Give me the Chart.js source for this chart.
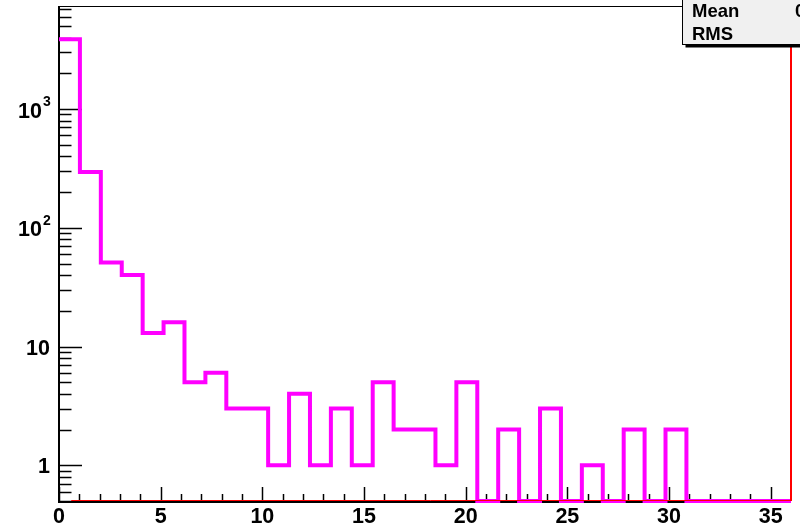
<!DOCTYPE html>
<html><head><meta charset="utf-8">
<script src="https://cdn.jsdelivr.net/npm/chart.js@4"></script>
<style>html,body{margin:0;padding:0;background:#fff;} canvas{display:block;}</style>
</head><body>
<canvas id="c" width="800" height="528"></canvas>
<script>
// ---- data ----
const xMin = 0, xMax = 36, nBins = 35;
const counts = [3880, 295, 51, 40, 13, 16, 5, 6, 3, 3, 1, 4, 1, 3, 1, 5, 2, 2, 1, 5,
                0, 2, 0, 3, 0, 1, 0, 2, 0, 2, 0, 0, 0, 0, 0];
const yMin = 0.5, yMax = 7380;
const xTickValues = [0, 5, 10, 15, 20, 25, 30, 35];
const xTickLabels = ['0', '5', '10', '15', '20', '25', '30', '35'];
const yTickValues = [1, 10, 100, 1000];
const yTickBase = ['1', '10', '10', '10'];
const yTickExp = ['', '', '2', '3'];
const statNames = ['Mean', 'RMS'];

// ---- build histogram outline from the arrays ----
const binW = (xMax - xMin) / nBins;
const pts = counts.map((n, i) => ({ x: xMin + i * binW, y: n > 0 ? n : yMin }));
pts.push({ x: xMax, y: counts[counts.length - 1] > 0 ? counts[counts.length - 1] : yMin });

// stats
let sN = 0, sX = 0, sXX = 0;
counts.forEach((n, i) => { const c = xMin + (i + 0.5) * binW; sN += n; sX += n * c; sXX += n * c * c; });
const mean = sX / sN, rms = Math.sqrt(sXX / sN - mean * mean);
const statValues = [mean.toPrecision(4), rms.toPrecision(4)];

const FONT = '"Liberation Sans", Arial, Helvetica, sans-serif';

const rootStyle = {
  id: 'rootStyle',
  beforeDatasetsDraw(chart) {
    const { ctx, chartArea: a, scales: { x, y } } = chart;
    ctx.save();
    ctx.strokeStyle = '#000';
    // top frame
    ctx.lineWidth = 1;
    ctx.beginPath(); ctx.moveTo(a.left, a.top + 0.5); ctx.lineTo(a.right, a.top + 0.5); ctx.stroke();
    // axes
    ctx.lineWidth = 2;
    ctx.beginPath(); ctx.moveTo(a.left, a.top); ctx.lineTo(a.left, a.bottom + 1); ctx.lineTo(a.right, a.bottom + 1); ctx.stroke();
    // y ticks (log: major at decades, minor 2..9)
    ctx.lineWidth = 1.5;
    for (let d = -1; d <= 4; d++) {
      for (let m = 1; m <= 9; m++) {
        const v = m * Math.pow(10, d);
        if (v < yMin || v > yMax) continue;
        const py = Math.round(y.getPixelForValue(v)) + 0.5;
        const len = m === 1 ? 23 : 12.5;
        ctx.beginPath(); ctx.moveTo(a.left, py); ctx.lineTo(a.left + len, py); ctx.stroke();
      }
    }
    // x ticks
    for (let v = Math.ceil(xMin); v < xMax; v++) {
      const px = Math.round(x.getPixelForValue(v)) + 0.5;
      const len = v % 5 === 0 ? 14 : 7;
      ctx.beginPath(); ctx.moveTo(px, a.bottom); ctx.lineTo(px, a.bottom - len); ctx.stroke();
    }
    // labels
    ctx.fillStyle = '#000';
    ctx.font = 'bold 21.5px ' + FONT;
    ctx.textAlign = 'center'; ctx.textBaseline = 'alphabetic';
    xTickValues.forEach((v, i) => {
      ctx.fillText(xTickLabels[i], x.getPixelForValue(v), 523);
    });
    yTickValues.forEach((v, i) => {
      const py = y.getPixelForValue(v);
      if (yTickExp[i]) {
        ctx.font = 'bold 21.5px ' + FONT; ctx.textAlign = 'right';
        ctx.fillText(yTickBase[i], 42, py + 8.5);
        ctx.font = 'bold 14px ' + FONT; ctx.textAlign = 'left';
        ctx.fillText(yTickExp[i], 43, py - 3);
      } else {
        ctx.font = 'bold 21.5px ' + FONT; ctx.textAlign = 'right';
        ctx.fillText(yTickBase[i], 50, py + 8);
      }
    });
    ctx.restore();
  },
  afterDatasetsDraw(chart) {
    const { ctx, chartArea: a, scales: { x } } = chart;
    ctx.save();
    // red frame lines
    ctx.strokeStyle = '#ff0000'; ctx.lineWidth = 1;
    ctx.beginPath();
    ctx.moveTo(x.getPixelForValue(0.6), a.bottom - 0.5);
    ctx.lineTo(a.right - 0.5, a.bottom - 0.5);
    ctx.stroke();
    ctx.lineWidth = 2;
    ctx.beginPath();
    ctx.moveTo(a.right, a.bottom);
    ctx.lineTo(a.right, a.top);
    ctx.stroke();
    // stats box
    const bx = 682.5, by = -2, bw = 140, bh = 46.5;
    ctx.fillStyle = '#000';
    ctx.fillRect(bx + 3, by + 3, bw, bh);
    ctx.fillStyle = '#f0f0f0';
    ctx.fillRect(bx, by, bw, bh);
    ctx.strokeStyle = '#000'; ctx.lineWidth = 1;
    ctx.strokeRect(bx, by, bw, bh);
    ctx.fillStyle = '#000';
    ctx.font = 'bold 18.5px ' + FONT;
    ctx.textAlign = 'left'; ctx.textBaseline = 'alphabetic';
    ctx.fillText(statNames[0], 692, 17);
    ctx.fillText(statNames[1], 692, 40);
    const vRight = 795 + ctx.measureText(statValues[0]).width;
    ctx.textAlign = 'right';
    ctx.fillText(statValues[0], vRight, 17);
    ctx.fillText(statValues[1], vRight, 40);
    ctx.restore();
  }
};

new Chart(document.getElementById('c'), {
  type: 'line',
  data: {
    datasets: [{
      data: pts,
      borderColor: '#ff00ff',
      borderWidth: 4,
      stepped: 'before',
      pointRadius: 0,
      fill: false,
      clip: 4
    }]
  },
  options: {
    responsive: false,
    animation: false,
    layout: { padding: { left: 59, right: 9, top: 6, bottom: 27 } },
    plugins: { legend: { display: false }, tooltip: { enabled: false } },
    scales: {
      x: { type: 'linear', min: xMin, max: xMax, display: false },
      y: { type: 'logarithmic', min: yMin, max: yMax, display: false }
    }
  },
  plugins: [rootStyle]
});
</script>
</body></html>
